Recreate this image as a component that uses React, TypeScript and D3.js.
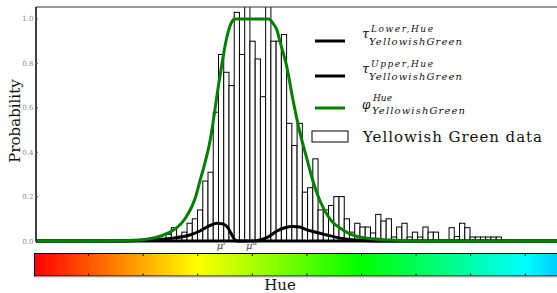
import React, { Component } from 'react';
import * as d3 from 'd3';

// histogram of the Yellowish Green samples (hue bins)
const binStart = 48.4;
const binWidth = 1.92;
const binHeights = [
  0.03, 0.06, 0.02, 0.04, 0.08, 0.10, 0.14, 0.27, 0.31, 0.58,
  0.84, 0.76, 0.70, 1.03, 0.84, 1.10, 0.90, 0.82, 0.65, 1.10,
  0.90, 0.90, 0.93, 0.53, 0.43, 0.53, 0.22, 0.24, 0.37, 0.14,
  0.14, 0.16, 0.20, 0.20, 0.10, 0.04, 0.08, 0.063, 0.063, 0.036,
  0.12, 0.09, 0.10, 0.018, 0.063, 0.08, 0.018, 0.04, 0.018, 0.063,
  0.04, 0.04, 0, 0, 0.06, 0.02, 0.08, 0.06, 0.018, 0.018,
  0.018, 0.018, 0.018, 0.018
];

// phi (membership) curve
const phiHue = [0, 24.2, 38.8, 49.8, 55.3, 59.0, 60.8, 64.5, 68.1, 70.7, 72.2, 73.6, 86.0, 87.6, 89.0, 90.1, 92.7, 94.9, 97.4, 100.0, 102.2, 104.8, 108.4, 113.2, 119.4, 130.4, 141.4, 192];
const phiVal = [0, 0, 0.005, 0.04, 0.10, 0.19, 0.27, 0.45, 0.74, 0.92, 0.98, 1.0, 1.0, 0.98, 0.95, 0.90, 0.78, 0.635, 0.49, 0.37, 0.27, 0.18, 0.10, 0.05, 0.018, 0.004, 0, 0];

// tau lower / upper
const lowerHue = [0, 31.5, 38.8, 50.9, 57.1, 60.8, 63.7, 67.0, 68.9, 70.7, 72.2, 73.6, 74.4, 192];
const lowerVal = [0, 0, 0.003, 0.013, 0.027, 0.045, 0.065, 0.08, 0.078, 0.065, 0.035, 0.005, 0, 0];
const upperHue = [0, 81.0, 82.8, 85.3, 89.0, 91.9, 94.9, 97.4, 100.0, 102.2, 104.8, 107.3, 112.1, 118.3, 126.7, 192];
const upperVal = [0, 0, 0.005, 0.015, 0.045, 0.06, 0.065, 0.063, 0.05, 0.043, 0.035, 0.027, 0.013, 0.004, 0, 0];

const muNames = ['l', 'u'];
const muHues = [68.1, 78.8];

const yTicks = [0, 0.2, 0.4, 0.6, 0.8, 1.0];
const hueTicks = [20, 40, 60, 80, 100, 120, 140, 160, 180];

const serif = "'DejaVu Serif', 'Liberation Serif', serif";

export default class App extends Component {
  chartRef = React.createRef<SVGSVGElement>();

  componentDidMount() {
    let svg = d3.select(this.chartRef.current);
    svg.selectAll('*').remove();

    let x = d3.scaleLinear().domain([0, 192]).range([34, 558]);
    let y = d3.scaleLinear().domain([0, 1.054]).range([241, 7]);

    let defs = svg.append('defs');
    defs.append('clipPath').attr('id', 'plotClip')
      .append('rect').attr('x', 36).attr('y', 7).attr('width', 530).attr('height', 238);

    let grad = defs.append('linearGradient').attr('id', 'hueGrad')
      .attr('gradientUnits', 'userSpaceOnUse')
      .attr('x1', x(0)).attr('x2', x(192)).attr('y1', 0).attr('y2', 0);
    d3.range(0, 193, 4).forEach(h => {
      grad.append('stop')
        .attr('offset', h / 192)
        .attr('stop-color', d3.hsl(h, 1, 0.5).toString());
    });

    let plot = svg.append('g').attr('clip-path', 'url(#plotClip)');

    // bars
    plot.append('g')
      .selectAll('rect')
      .data(binHeights)
      .enter().append('rect')
        .attr('x', (d, i) => x(binStart + i * binWidth))
        .attr('y', d => y(d))
        .attr('width', x(binWidth) - x(0))
        .attr('height', d => y(0) - y(d))
        .attr('fill', 'white')
        .attr('stroke', 'black')
        .attr('stroke-width', 1);

    let line = d3.line<[number, number]>()
      .x(d => x(d[0]))
      .y(d => y(d[1]))
      .curve(d3.curveMonotoneX);

    let series = [
      { hue: lowerHue, val: lowerVal, color: 'black' },
      { hue: upperHue, val: upperVal, color: 'black' },
      { hue: phiHue, val: phiVal, color: '#008000' }
    ];
    series.forEach(s => {
      plot.append('path')
        .attr('d', line(s.hue.map((h, i) => [h, s.val[i]] as [number, number])))
        .attr('fill', 'none')
        .attr('stroke', s.color)
        .attr('stroke-width', 3)
        .attr('stroke-linejoin', 'round');
    });

    // frame
    svg.append('line').attr('x1', 36).attr('x2', 557).attr('y1', 7).attr('y2', 7)
      .attr('stroke', '#333').attr('stroke-width', 1.2);
    svg.append('line').attr('x1', 36).attr('x2', 36).attr('y1', 7).attr('y2', 242)
      .attr('stroke', 'black').attr('stroke-width', 1.5);

    // y ticks
    let yt = svg.append('g');
    yTicks.forEach(t => {
      yt.append('line').attr('x1', 35).attr('x2', 38).attr('y1', y(t)).attr('y2', y(t))
        .attr('stroke', '#555').attr('stroke-width', 1);
      yt.append('text').attr('x', 33.5).attr('y', y(t) + 2.5)
        .attr('text-anchor', 'end')
        .attr('font-family', serif).attr('font-size', 7)
        .attr('fill', '#8a8a8a')
        .text(t.toFixed(1));
    });

    svg.append('text')
      .attr('transform', 'translate(20,121) rotate(-90)')
      .attr('text-anchor', 'middle')
      .attr('font-family', serif).attr('font-size', 15)
      .attr('fill', '#111')
      .text('Probability');

    // mu labels
    muNames.forEach((n, i) => {
      let t = svg.append('text')
        .attr('x', x(muHues[i]) - 3).attr('y', 249)
        .attr('font-family', serif).attr('font-style', 'italic')
        .attr('font-size', 10).attr('fill', '#444');
      t.append('tspan').text('\u03bc');
      t.append('tspan').attr('dy', -4).attr('font-size', 7).text(n);
    });

    // legend
    let lg = svg.append('g');
    let legendLines = [
      { y: 41, color: 'black', sup: 'Lower,Hue', sym: '\u03c4' },
      { y: 76, color: 'black', sup: 'Upper,Hue', sym: '\u03c4' },
      { y: 108, color: '#008000', sup: 'Hue', sym: '\u03c6' }
    ];
    legendLines.forEach(l => {
      lg.append('line').attr('x1', 315).attr('x2', 345).attr('y1', l.y).attr('y2', l.y)
        .attr('stroke', l.color).attr('stroke-width', 3);
      let phi = l.sym === '\u03c6';
      lg.append('text')
        .attr('x', 362).attr('y', phi ? l.y + 1 : l.y - 3)
        .attr('font-family', serif).attr('font-style', 'italic')
        .attr('font-size', phi ? 12 : 13).attr('fill', '#111')
        .text(l.sym);
      let sup = lg.append('text')
        .attr('x', phi ? 373 : 371).attr('y', phi ? l.y - 7 : l.y - 9)
        .attr('font-family', serif).attr('font-style', 'italic')
        .attr('font-size', 9).attr('fill', '#111')
        .text(l.sup);
      if (!phi) sup.attr('textLength', 62);
      lg.append('text')
        .attr('x', phi ? 372 : 369).attr('y', phi ? l.y + 6 : l.y + 4)
        .attr('font-family', serif).attr('font-style', 'italic')
        .attr('font-size', 10).attr('fill', '#111')
        .attr('textLength', 93)
        .text('YellowishGreen');
    });
    lg.append('rect').attr('x', 312).attr('y', 131).attr('width', 36).attr('height', 11)
      .attr('fill', 'white').attr('stroke', 'black').attr('stroke-width', 1);
    lg.append('text').attr('x', 363).attr('y', 142)
      .attr('font-family', serif).attr('font-size', 15).attr('fill', '#111')
      .attr('textLength', 179)
      .text('Yellowish Green data');

    // colour bar
    let cb = svg.append('g');
    cb.append('rect').attr('x', 34.5).attr('y', 253.5).attr('width', 530).attr('height', 22.5)
      .attr('fill', 'url(#hueGrad)').attr('stroke', 'black').attr('stroke-width', 1);
    cb.append('line').attr('x1', 35).attr('x2', 557).attr('y1', 277).attr('y2', 277)
      .attr('stroke', '#bbb').attr('stroke-width', 1);
    hueTicks.forEach(h => {
      cb.append('line').attr('x1', x(h)).attr('x2', x(h)).attr('y1', 254).attr('y2', 256)
        .attr('stroke', 'black').attr('stroke-width', 1);
      cb.append('line').attr('x1', x(h)).attr('x2', x(h)).attr('y1', 273.5).attr('y2', 275.5)
        .attr('stroke', 'black').attr('stroke-width', 1);
    });
    svg.append('text').attr('x', 280).attr('y', 290)
      .attr('text-anchor', 'middle')
      .attr('font-family', serif).attr('font-size', 15).attr('fill', '#111')
      .text('Hue');
  }

  render() {
    return (
      <svg ref={this.chartRef} width={557} height={293}
        style={{ position: 'fixed', left: 0, top: 0, background: 'white' }} />
    );
  }
}
